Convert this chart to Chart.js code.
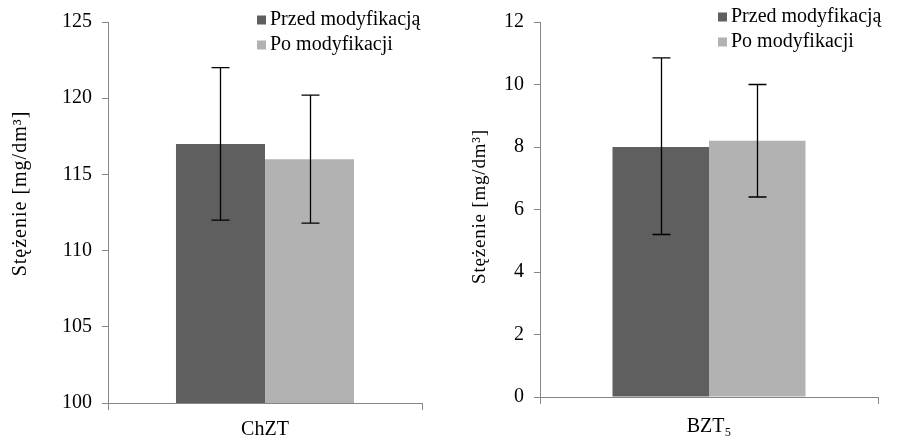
<!DOCTYPE html>
<html>
<head>
<meta charset="utf-8">
<script src="https://cdn.jsdelivr.net/npm/chart.js@4.4.1/dist/chart.umd.min.js"></script>
<style>
  body { margin: 0; background: #fff; }
  #wrap { position: relative; width: 897px; height: 440px; }
  canvas { position: absolute; top: 0; }
</style>
</head>
<body>
<div id="wrap">
  <canvas id="left" width="450" height="440" style="left:0"></canvas>
  <canvas id="right" width="447" height="440" style="left:450px"></canvas>
</div>
<script>
const seriesNames = ['Przed modyfikacją', 'Po modyfikacji'];
const yTitle = 'Stężenie [mg/dm³]';

// ChZT
const chztLabels = ['ChZT'];
const chztBefore = [117.0];
const chztAfter = [116.0];
const chztBeforeLow = [112.0];
const chztBeforeHigh = [122.0];
const chztAfterLow = [111.8];
const chztAfterHigh = [120.2];
const chztTicks = [100, 105, 110, 115, 120, 125];

// BZT5
const bztLabels = ['BZT₅'];
const bztBefore = [8.0];
const bztAfter = [8.2];
const bztBeforeLow = [5.2];
const bztBeforeHigh = [10.85];
const bztAfterLow = [6.4];
const bztAfterHigh = [10.0];
const bztTicks = [0, 2, 4, 6, 8, 10, 12];

const DARK = '#5f5f5f';
const LIGHT = '#b2b2b2';
const AXIS = '#868686';
const FONT = "'Liberation Serif', 'Times New Roman', serif";

const errorBars = {
    id: 'errorBars',
    afterDatasetsDraw(chart) {
        const ctx = chart.ctx;
        const y = chart.scales.y;
        ctx.save();
        ctx.strokeStyle = '#000';
        ctx.lineWidth = 1.3;
        chart.data.datasets.forEach((ds, i) => {
            chart.getDatasetMeta(i).data.forEach((bar, j) => {
                const x = Math.round(bar.x) + 0.5;
                const top = y.getPixelForValue(ds.high[j]);
                const bot = y.getPixelForValue(ds.low[j]);
                ctx.beginPath();
                ctx.moveTo(x, top); ctx.lineTo(x, bot);
                ctx.moveTo(x - 9, top); ctx.lineTo(x + 9, top);
                ctx.moveTo(x - 9, bot); ctx.lineTo(x + 9, bot);
                ctx.stroke();
            });
        });
        ctx.restore();
    }
};

// legend inside the plot, top right, plus the rotated y title
const extras = {
    id: 'extras',
    afterDraw(chart, args, opts) {
        const ctx = chart.ctx;
        ctx.save();
        ctx.font = '20px ' + FONT;
        ctx.textBaseline = 'middle';
        chart.data.datasets.forEach((ds, i) => {
            const cy = opts.legY + i * 25;
            ctx.fillStyle = ds.backgroundColor;
            ctx.fillRect(opts.legX, cy - 4.5, 9, 9);
            ctx.fillStyle = '#000';
            ctx.fillText(ds.label, opts.legX + 13, cy);
        });
        const area = chart.chartArea;
        ctx.translate(opts.titleX, (area.top + area.bottom) / 2 + opts.titleDy);
        ctx.rotate(-Math.PI / 2);
        ctx.font = opts.titleSize + 'px ' + FONT;
        ctx.letterSpacing = opts.titleSpacing + 'px';
        ctx.textAlign = 'center';
        ctx.fillText(yTitle, 0, 0);
        ctx.restore();
    }
};

function makeChart(id, labels, before, after, bLow, bHigh, aLow, aHigh, ticks, geo) {
    new Chart(document.getElementById(id), {
        type: 'bar',
        data: {
            labels: labels,
            datasets: [
                { label: seriesNames[0], data: before, low: bLow, high: bHigh, backgroundColor: DARK },
                { label: seriesNames[1], data: after, low: aLow, high: aHigh, backgroundColor: LIGHT }
            ]
        },
        options: {
            responsive: false,
            animation: false,
            layout: { padding: { top: geo.top, right: geo.right, left: 0, bottom: 0 } },
            datasets: { bar: { barPercentage: 1, categoryPercentage: geo.cat } },
            plugins: {
                legend: { display: false },
                tooltip: { enabled: false },
                extras: geo.extras
            },
            scales: {
                x: {
                    grid: { display: true, offset: true, drawOnChartArea: false, color: AXIS, tickLength: 7 },
                    border: { color: AXIS },
                    ticks: { color: '#000', font: { family: FONT, size: 20 }, padding: geo.xpad },
                    afterFit: s => { s.height = geo.xh; }
                },
                y: {
                    min: ticks[0],
                    max: ticks[ticks.length - 1],
                    afterBuildTicks: s => { s.ticks = ticks.map(v => ({ value: v })); },
                    grid: { drawOnChartArea: false, color: AXIS, tickLength: 6 },
                    border: { color: AXIS },
                    ticks: { color: '#000', font: { family: FONT, size: 20 }, padding: 10 },
                    afterFit: s => { s.width = geo.yw; }
                }
            }
        },
        plugins: [errorBars, extras]
    });
}

makeChart('left', chztLabels, chztBefore, chztAfter, chztBeforeLow, chztBeforeHigh, chztAfterLow, chztAfterHigh, chztTicks,
    { top: 17, right: 28, xh: 37, yw: 108, cat: 0.567, xpad: 8,
      extras: { legX: 257, legY: 20, titleX: 21, titleDy: -19, titleSize: 20, titleSpacing: 1 } });
makeChart('right', bztLabels, bztBefore, bztAfter, bztBeforeLow, bztBeforeHigh, bztAfterLow, bztAfterHigh, bztTicks,
    { top: 16, right: 19, xh: 43, yw: 90, cat: 0.571, xpad: 11,
      extras: { legX: 268, legY: 17, titleX: 30, titleDy: -3, titleSize: 19, titleSpacing: 0.8 } });
</script>
</body>
</html>
